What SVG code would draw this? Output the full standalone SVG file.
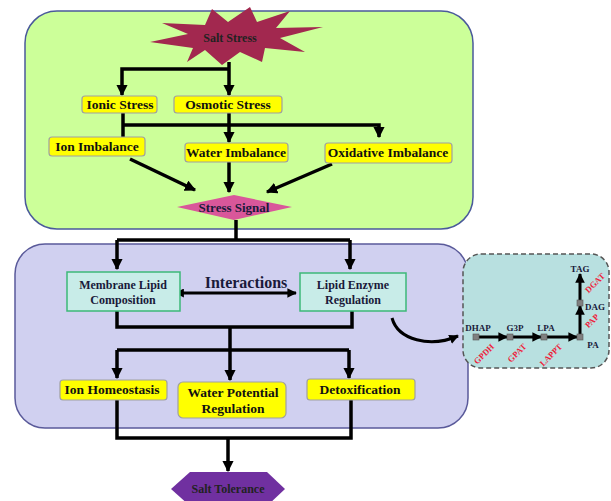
<svg xmlns="http://www.w3.org/2000/svg" width="611" height="501" viewBox="0 0 611 501">
<defs>
<marker id="ah" viewBox="0 0 10 10" refX="9" refY="5" markerWidth="3.2" markerHeight="3.2" orient="auto" markerUnits="strokeWidth"><path d="M0,0 L10,5 L0,10 Z" fill="#000"/></marker>
<marker id="ahs" viewBox="0 0 10 10" refX="1" refY="5" markerWidth="3" markerHeight="3" orient="auto-start-reverse" markerUnits="strokeWidth"><path d="M0,0 L10,5 L0,10 Z" fill="#000"/></marker>
</defs>
<style>
text{font-family:"Liberation Serif","Times New Roman",serif;font-weight:bold;text-anchor:middle}
.y{fill:#ffff00;stroke:#a0a0a0;stroke-width:1.2}
.t{fill:#c8ece8;stroke:#3cb878;stroke-width:1.5}
.ln{fill:none;stroke:#000;stroke-width:3.5}
.pl{fill:none;stroke:#000;stroke-width:3}
.lb{font-size:13.5px;fill:#111}
.bx{font-size:12px;fill:#1a1a3a}
.pw{font-size:9px;fill:#1a1a3a}
.en{font-size:8.5px;fill:#ee1c3a}
.nd{fill:#808080;stroke:#555;stroke-width:0.6}
</style>
<g id="panel-stress"><rect x="25" y="11" width="448" height="218" rx="32" fill="#ccff99" stroke="#4a5a9a" stroke-width="1.5"/></g>
<g id="panel-response"><rect x="15" y="244" width="453" height="184" rx="30" fill="#d0d0f0" stroke="#5a5a9a" stroke-width="1.5"/></g>
<g id="panel-pathway"><rect x="463" y="254" width="146" height="114" rx="18" fill="#b8e0e0" stroke="#555" stroke-width="1.5" stroke-dasharray="5,3"/></g>

<g id="connectors">
<path class="ln" d="M229,62 V95" marker-end="url(#ah)"/>
<path class="ln" d="M229,69 H122 V95" marker-end="url(#ah)"/>
<path class="ln" d="M123,113 V137"/>
<path class="ln" d="M123,125 H379 V137" marker-end="url(#ah)"/>
<path class="ln" d="M229,113 V142" marker-end="url(#ah)"/>
<path class="ln" d="M130,159 L195,190" marker-end="url(#ah)"/>
<path class="ln" d="M229,162 V192" marker-end="url(#ah)"/>
<path class="ln" d="M332,164 L267,192" marker-end="url(#ah)"/>
<path class="ln" d="M236,220 V240"/>
<path class="ln" d="M117,240 H350"/>
<path class="ln" d="M117,240 V269" marker-end="url(#ah)"/>
<path class="ln" d="M350,240 V269" marker-end="url(#ah)"/>
<path class="pl" d="M183,293 H296" marker-start="url(#ahs)" marker-end="url(#ah)" stroke-width="2.5"/>
<path class="ln" d="M117,311 V327 H352 V311"/>
<path class="ln" d="M230,327 V380" marker-end="url(#ah)"/>
<path class="ln" d="M117,350 H349"/>
<path class="ln" d="M117,350 V378" marker-end="url(#ah)"/>
<path class="ln" d="M349,350 V378" marker-end="url(#ah)"/>
<path class="ln" d="M117,400 V438 H351 V400"/>
<path class="ln" d="M228,438 V471" marker-end="url(#ah)"/>
<path class="pl" d="M392,318 C398,340 430,348 458,336" marker-end="url(#ah)"/>
<path class="pl" d="M476,337 H507" marker-end="url(#ah)"/>
<path class="pl" d="M510,337 H541" marker-end="url(#ah)"/>
<path class="pl" d="M544,337 H577" marker-end="url(#ah)"/>
<path class="pl" d="M580,337 V306" marker-end="url(#ah)"/>
<path class="pl" d="M580,303 V274" marker-end="url(#ah)"/>
</g>

<g id="salt-stress">
<path d="M150,42 L188,34 L162,23 L205,25 L212,9 L228,22 L250,7 L257,22 L290,11 L276,28 L323,27 L280,38 L305,52 L265,48 L262,62 L240,52 L222,65 L205,50 L187,62 L193,48 Z" fill="#a2284f"/>
<text x="230" y="42" style="font-size:12px;fill:#222">Salt Stress</text>
</g>
<g id="ionic-stress"><rect class="y" x="82" y="96" width="75" height="17" rx="3"/><text class="lb" x="120" y="109">Ionic Stress</text></g>
<g id="osmotic-stress"><rect class="y" x="174" y="96" width="108" height="17" rx="3"/><text class="lb" x="228" y="109">Osmotic Stress</text></g>
<g id="ion-imbalance"><rect class="y" x="49" y="137" width="96" height="19" rx="3"/><text class="lb" x="97" y="151">Ion Imbalance</text></g>
<g id="water-imbalance"><rect class="y" x="185" y="143" width="103" height="19" rx="3"/><text class="lb" x="236" y="157">Water Imbalance</text></g>
<g id="oxidative-imbalance"><rect class="y" x="325" y="143" width="127" height="20" rx="3"/><text class="lb" x="388" y="157">Oxidative Imbalance</text></g>
<g id="stress-signal">
<path d="M177,207 L234,195 L292,207 L234,220 Z" fill="#d9579a"/>
<text x="234" y="212" style="font-size:13px;fill:#1a1a3a">Stress Signal</text>
</g>
<text x="246" y="288" style="font-size:16px;fill:#1a1a3a">Interactions</text>
<g id="membrane-lipid"><rect class="t" x="67" y="272" width="113" height="39"/><text class="bx" x="123" y="289">Membrane Lipid</text><text class="bx" x="123" y="304">Composition</text></g>
<g id="lipid-enzyme"><rect class="t" x="300" y="273" width="106" height="38"/><text class="bx" x="353" y="289">Lipid Enzyme</text><text class="bx" x="353" y="304">Regulation</text></g>
<g id="ion-homeostasis"><rect class="y" x="60" y="380" width="107" height="20" rx="3"/><text class="lb" x="112" y="394">Ion Homeostasis</text></g>
<g id="water-potential"><rect class="y" x="178" y="382" width="108" height="36" rx="5"/><text class="lb" x="233" y="397">Water Potential</text><text class="lb" x="233" y="413">Regulation</text></g>
<g id="detoxification"><rect class="y" x="307" y="379" width="108" height="21" rx="3"/><text class="lb" x="360" y="394">Detoxification</text></g>
<g id="salt-tolerance">
<path d="M171,489 L190,472 L267,472 L285,489 L267,506 L190,506 Z" fill="#7030a0"/>
<text x="228" y="493" style="font-size:12px;fill:#222">Salt Tolerance</text>
</g>
<g id="pathway">
<rect class="nd" x="473" y="334" width="6" height="6"/>
<rect class="nd" x="507" y="334" width="6" height="6"/>
<rect class="nd" x="541" y="334" width="6" height="6"/>
<rect class="nd" x="577" y="334" width="6" height="6"/>
<rect class="nd" x="577" y="300" width="6" height="6"/>
<text class="pw" x="478" y="331">DHAP</text>
<text class="pw" x="515" y="331">G3P</text>
<text class="pw" x="546" y="331">LPA</text>
<text class="pw" x="593" y="348">PA</text>
<text class="pw" x="595" y="310">DAG</text>
<text class="pw" x="580" y="272">TAG</text>
<text class="en" transform="translate(486,356) rotate(-45)">GPDH</text>
<text class="en" transform="translate(519,355) rotate(-45)">GPAT</text>
<text class="en" transform="translate(553,357) rotate(-45)">LAPPT</text>
<text class="en" transform="translate(594,323) rotate(-45)">PAP</text>
<text class="en" transform="translate(597,285) rotate(-45)">DGAT</text>
</g>
</svg>
